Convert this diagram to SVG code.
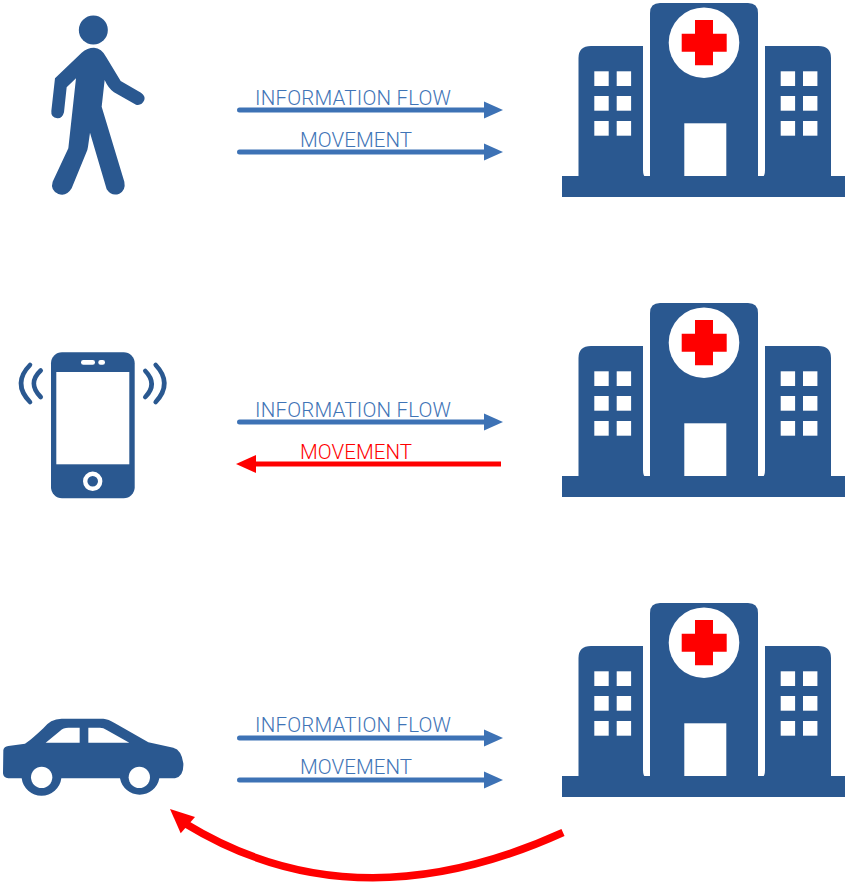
<svg xmlns="http://www.w3.org/2000/svg" xmlns:xlink="http://www.w3.org/1999/xlink" width="845" height="882" viewBox="0 0 845 882">
<style>
.navy{fill:#2a5890}
.w{fill:#fff}
.r{fill:#f00}
.lb{font-family:"Roboto","Liberation Sans",sans-serif;font-weight:300;font-size:20.5px;fill:#3f74b6}
.red{fill:#f00}
.bh{fill:#3d72b5}
.blue-line{stroke:#3d72b5;stroke-width:5;stroke-linecap:round;fill:none}
.red-line{stroke:#f00;fill:none}
.wave{stroke:#2a5890;stroke-width:4.600;stroke-linecap:round;fill:none}
</style>
<defs>
<g id="hospital">
<rect class="navy" x="562" y="176" width="283" height="21"/>
<path class="navy" d="M650,178V13Q650,3 660,3H748Q758,3 758,13V178Z"/>
<path class="navy" d="M578.500,178V58Q578.500,46 591,46H643V170Q643,176 646,178Z"/>
<path class="navy" d="M831,178V58Q831,46 818.500,46H765V170Q765,176 762,178Z"/>
<circle class="w" cx="704" cy="42.700" r="35.300"/>
<path class="r" d="M695,20H713V33.700H726.700V51.700H713V65.300H695V51.700H681.700V33.700H695Z"/>
<rect class="w" x="684.300" y="123.300" width="42" height="52.700"/>
<g class="w">
<rect x="594.300" y="71.300" width="14.400" height="14.700"/><rect x="616.700" y="71.300" width="14.400" height="14.700"/>
<rect x="594.300" y="96" width="14.400" height="14.700"/><rect x="616.700" y="96" width="14.400" height="14.700"/>
<rect x="594.300" y="121" width="14.400" height="14.700"/><rect x="616.700" y="121" width="14.400" height="14.700"/>
<rect x="780.700" y="71.300" width="14.400" height="14.700"/><rect x="803" y="71.300" width="14.400" height="14.700"/>
<rect x="780.700" y="96" width="14.400" height="14.700"/><rect x="803" y="96" width="14.400" height="14.700"/>
<rect x="780.700" y="121" width="14.400" height="14.700"/><rect x="803" y="121" width="14.400" height="14.700"/>
</g>
</g>
</defs>
<g id="person" transform="scale(0.33333)">
<circle class="navy" cx="280" cy="90" r="43.500"/>
<path class="navy" d="M245,158Q262,143 282,143Q305,145 318,170L362,243L423,278Q437,288 433,300Q425,318 408,314L342,277Q325,265 314,240L305,320L373,545Q378,570 358,581Q335,590 320,568L270,398L264,440L262,450L215,565Q200,590 175,582Q150,570 158,545L205,445L228,235L200,262L192,337Q187,356 172,355Q152,352 154,333L165,235Z"/>
</g>
<g id="hospital-1"><use href="#hospital" xlink:href="#hospital"/></g>
<g id="phone">
<rect class="navy" x="51" y="352.300" width="83.700" height="146" rx="11"/>
<rect class="w" x="56.300" y="372" width="73" height="92.300"/>
<rect class="w" x="81" y="360" width="14" height="4.700" rx="2.300"/>
<rect class="w" x="98.300" y="360" width="6.700" height="4.700" rx="2.300"/>
<circle cx="92.700" cy="481.300" r="7.500" fill="#2a5890" stroke="#fff" stroke-width="4.400"/>
<path class="wave" d="M30,365Q12,383.300 30,402"/>
<path class="wave" d="M40.700,370.500Q27,383.300 40.700,397"/>
<path class="wave" d="M155.700,365Q173,383.300 155.700,402"/>
<path class="wave" d="M145.300,371Q158,384 145.300,397"/>
</g>
<g id="hospital-2"><use href="#hospital" xlink:href="#hospital" y="300"/></g>
<g id="car" transform="translate(0,705) scale(0.33333)">
<path class="navy" d="M10,135Q12,125 25,123L75,116Q85,112 130,70Q150,42 185,41L310,41Q325,42 345,55L445,112L520,128Q545,135 550,175Q552,215 525,220L478,220A60,60 0 0 1 360,220L184,220A60,60 0 0 1 65,220L25,220Q10,218 9,205Z"/>
<path class="w" d="M137,113L180,78Q190,68 205,68L239,68L239,113Z"/>
<path class="w" d="M265,68L300,68Q310,68 320,75L388,113L265,113Z"/>
<circle class="w" cx="125" cy="217" r="32"/>
<circle class="w" cx="418" cy="217" r="32"/>
</g>
<g id="hospital-3"><use href="#hospital" xlink:href="#hospital" y="600"/></g>
<g id="connectors">
<path class="blue-line" d="M239.500,110H486"/><path class="bh" d="M484,101.500L503,110L484,118.500Z"/>
<path class="blue-line" d="M239.500,152H486"/><path class="bh" d="M484,143.500L503,152L484,160.500Z"/>
<path class="blue-line" d="M239.500,422H486"/><path class="bh" d="M484,413.500L503,422L484,430.500Z"/>
<path class="red-line" stroke-width="5" d="M501,464H255"/><path class="r" d="M256,455L236,464L256,473Z"/>
<path class="blue-line" d="M239.500,738H486"/><path class="bh" d="M484,729.500L503,738L484,746.500Z"/>
<path class="blue-line" d="M239.500,780H486"/><path class="bh" d="M484,771.500L503,780L484,788.500Z"/>
<path class="red-line" stroke-width="7.500" d="M563,832.500Q355,927 186,824"/><path class="r" d="M170,809L195,817L180.700,833.300Z"/>
</g>
<g id="labels">
<text class="lb" x="255" y="104.500" textLength="196">INFORMATION FLOW</text>
<text class="lb" x="300" y="146.500" textLength="112">MOVEMENT</text>
<text class="lb" x="255" y="416.500" textLength="196">INFORMATION FLOW</text>
<text class="lb red" x="300" y="458.500" textLength="112">MOVEMENT</text>
<text class="lb" x="255" y="731.500" textLength="196">INFORMATION FLOW</text>
<text class="lb" x="300" y="773.500" textLength="112">MOVEMENT</text>
</g>
</svg>
